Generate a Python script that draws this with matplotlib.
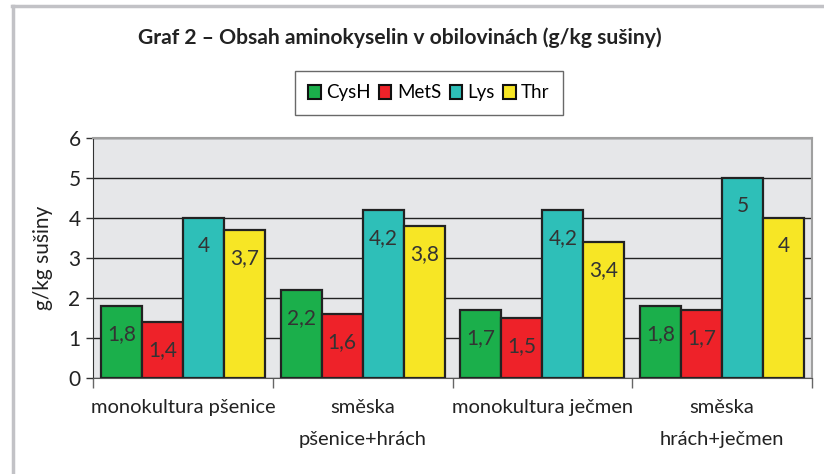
import numpy as np
import matplotlib
matplotlib.use("Agg")
import matplotlib.pyplot as plt
from matplotlib.patches import Patch
from matplotlib.lines import Line2D

plt.rcParams['font.family'] = ['Lato', 'DejaVu Sans']

# data
categories = ["monokultura pšenice", "směska\npšenice+hrách",
              "monokultura ječmen", "směska\nhrách+ječmen"]
series = ["CysH", "MetS", "Lys", "Thr"]
values = {
    "CysH": [1.8, 2.2, 1.7, 1.8],
    "MetS": [1.4, 1.6, 1.5, 1.7],
    "Lys": [4.0, 4.2, 4.2, 5.0],
    "Thr": [3.7, 3.8, 3.4, 4.0],
}
colors = ["#1BAF4B", "#EE2229", "#2EBFB8", "#F7E625"]

W, H = 824, 474
fig = plt.figure(figsize=(W / 100, H / 100), dpi=100)

# outer frame (grey)
fig.add_artist(Line2D([12 / W, 1], [1 - 6 / H, 1 - 6 / H], color="#C2C2C6", lw=2.5))
fig.add_artist(Line2D([13 / W, 13 / W], [0, 1 - 6 / H], color="#C2C2C6", lw=2.5))

ax = fig.add_axes([93 / W, 96 / H, (812 - 93) / W, 240 / H])
ax.set_facecolor("#E6E7E9")

x = np.arange(len(categories))
bw = 0.228
for i, s in enumerate(series):
    pos = x + (i - 1.5) * bw
    bars = ax.bar(pos, values[s], bw, color=colors[i], edgecolor="#222222",
                  linewidth=1.6, zorder=3)
    for b, v in zip(bars, values[s]):
        ax.text(b.get_x() + b.get_width() / 2, v - 0.7,
                f"{v:g}".replace(".", ","), ha="center", va="center",
                fontsize=15, color="#333333", zorder=4)

ax.set_xlim(-0.5, len(categories) - 0.5)
ax.set_ylim(0, 6)
ax.set_yticks(range(7))
ax.yaxis.grid(True, color="#222222", lw=1.0, zorder=1)
ax.tick_params(axis="y", labelsize=15, length=5, width=1, color="#333333",
               labelcolor="#222222", pad=4)

ax.set_xticks(np.arange(len(categories) + 1) - 0.5)
ax.set_xticklabels([])
ax.set_xticks(x, minor=True)
ax.set_xticklabels(categories, minor=True, fontsize=14.5, color="#222222",
                   linespacing=2.05)
ax.tick_params(axis="x", which="major", length=7, width=1, color="#666666")
ax.tick_params(axis="x", which="minor", length=0, pad=15)

for sp in ["top", "right"]:
    ax.spines[sp].set_color("#A0A0A0")
    ax.spines[sp].set_linewidth(1.5)
ax.spines["left"].set_color("#333333")
ax.spines["bottom"].set_color("#555555")

ax.set_ylabel("g/kg sušiny", fontsize=15, color="#222222", labelpad=11)

fig.text(400 / W, 1 - 38 / H, "Graf 2 – Obsah aminokyselin v obilovinách (g/kg sušiny)",
         ha="center", va="center", fontsize=15.2, fontweight="bold", color="#222222")

handles = [Patch(facecolor=c, edgecolor="#111111", linewidth=1.5) for c in colors]
leg = fig.legend(handles, series, loc="center", bbox_to_anchor=(429 / W, 1 - 93 / H),
                 ncol=4, fontsize=13.5, frameon=True, fancybox=False,
                 handlelength=0.65, handleheight=0.75, handletextpad=0.3,
                 columnspacing=0.45, borderpad=0.7, borderaxespad=0)
leg.get_frame().set_edgecolor("#444444")
leg.get_frame().set_linewidth(1.0)

fig.savefig("out.png", dpi=100)
